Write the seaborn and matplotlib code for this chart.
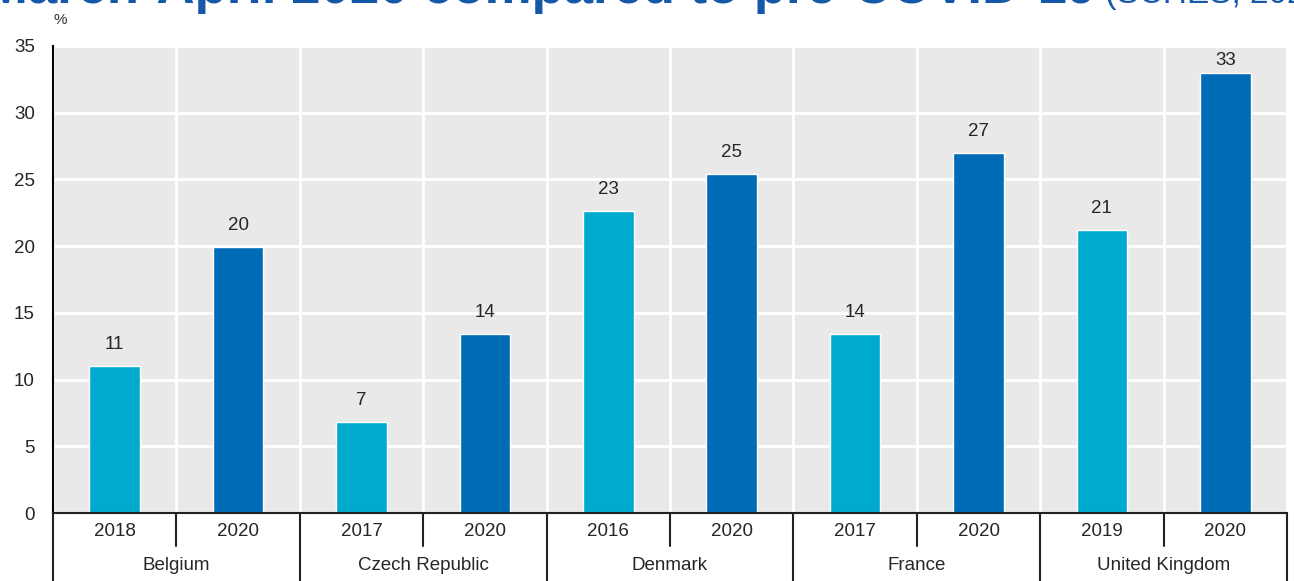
import numpy as np
import pandas as pd
import matplotlib
matplotlib.use("Agg")
import matplotlib.pyplot as plt
import matplotlib.transforms as mtransforms
import seaborn as sns

# ---- data ----
countries = ["Belgium", "Czech Republic", "Denmark", "France", "United Kingdom"]
pre_years = ["2018", "2017", "2016", "2017", "2019"]
covid_year = "2020"
pre_values = [11.0, 6.8, 22.6, 13.45, 21.2]
covid_values = [19.95, 13.45, 25.4, 27.0, 33.0]
pre_labels = ["11", "7", "23", "14", "21"]
covid_labels = ["20", "14", "25", "27", "33"]
y_ticks = [0, 5, 10, 15, 20, 25, 30, 35]

title_main = "March-April 2020 compared to pre-COVID-19"
title_src = " (SCHES, 2020)"

# ---- build table ----
rows = []
for c, py, pv, cv, pl, cl in zip(countries, pre_years, pre_values, covid_values,
                                  pre_labels, covid_labels):
    rows.append({"slot": f"{c} {py}", "country": c, "year": py, "value": pv,
                 "period": "pre", "label": pl})
    rows.append({"slot": f"{c} {covid_year}", "country": c, "year": covid_year,
                 "value": cv, "period": "covid", "label": cl})
df = pd.DataFrame(rows)
order = list(df["slot"])

sns.set_style("darkgrid", {"axes.facecolor": "#e9e9e9", "grid.color": "white"})
fam = ["Liberation Sans", "DejaVu Sans"]
plt.rcParams["font.family"] = fam

W, H = 1294, 581
ax_top, ax_bot, ax_l, ax_r = 46, 513, 53, 1287
fig = plt.figure(figsize=(W / 100, H / 100), dpi=100)
ax = fig.add_axes([ax_l / W, 1 - ax_bot / H, (ax_r - ax_l) / W, (ax_bot - ax_top) / H])

palette = {"pre": "#00a9ce", "covid": "#006bb6"}
sns.barplot(data=df, x="slot", y="value", hue="period", order=order,
            palette=palette, dodge=False, width=0.41, saturation=1,
            legend=False, ax=ax)

ymax = 35
ax.set_xlim(-0.5, len(order) - 0.5)
ax.set_ylim(0, ymax)
ax.set_yticks(y_ticks)
ax.set_xlabel("")
ax.set_ylabel("")

txt_color = "#262626"
fs = 13.5
ax.tick_params(axis="y", direction="in", length=5, width=1.5, color="black",
               labelsize=fs, labelcolor=txt_color, pad=13)
ax.set_xticks([])
ax.set_xticks(np.arange(-0.5, len(order), 1), minor=True)
ax.tick_params(axis="x", which="both", length=0, labelbottom=False)
ax.grid(True, which="major", axis="y", color="white", lw=2)
ax.grid(True, which="minor", axis="x", color="white", lw=2)
ax.set_axisbelow(True)

for s in ["top", "right"]:
    ax.spines[s].set_visible(False)
ax.spines["left"].set_color("black")
ax.spines["left"].set_linewidth(1.5)
ax.spines["bottom"].set_color("#222222")
ax.spines["bottom"].set_linewidth(1.5)

# value labels (kept inside the plot area)
px_per_unit = (ax_bot - ax_top) / ymax
gap = 17 / px_per_unit
lab_h = 15 / px_per_unit
top_margin = 4 / px_per_unit
for i, (v, lab) in enumerate(zip(df["value"], df["label"])):
    yb = v + gap
    if yb + lab_h > ymax - top_margin:
        yb = ymax - top_margin - lab_h
    ax.text(i, yb, lab, ha="center", va="baseline", fontsize=fs,
            color=txt_color, clip_on=False)

# category axis below
trans = mtransforms.blended_transform_factory(ax.transData, ax.transAxes)
axh = ax_bot - ax_top
for i, yr in enumerate(df["year"]):
    ax.text(i, -(532 - ax_bot) / axh, yr, transform=trans, ha="center",
            va="center", fontsize=fs, color=txt_color)
for k, c in enumerate(countries):
    ax.text(2 * k + 0.5, -(566 - ax_bot) / axh, c, transform=trans, ha="center",
            va="center", fontsize=fs, color=txt_color)
for k in range(len(countries)):
    ax.plot([2 * k + 0.5, 2 * k + 0.5], [0, -(546 - ax_bot) / axh],
            transform=trans, color="#222222", lw=1.5, clip_on=False)
for k in range(len(countries) + 1):
    ax.plot([2 * k - 0.5, 2 * k - 0.5], [0, -(590 - ax_bot) / axh],
            transform=trans, color="#222222", lw=1.5, clip_on=False)

# unit label
fig.text(60 / W, 1 - 20 / H, "%", ha="center", va="center", fontsize=11,
         color="#333333")

# clipped title
tblue = "#1558a8"
t1 = fig.text(-16 / W, 1 - 3 / H, title_main, ha="left", va="baseline",
              fontsize=38, fontweight="bold", color=tblue)
fig.canvas.draw()
bb = t1.get_window_extent()
fig.text(bb.x1 / fig.bbox.width, 1 - 3 / H, title_src, ha="left",
         va="baseline", fontsize=24, color=tblue)

fig.savefig("out.png", dpi=100)
